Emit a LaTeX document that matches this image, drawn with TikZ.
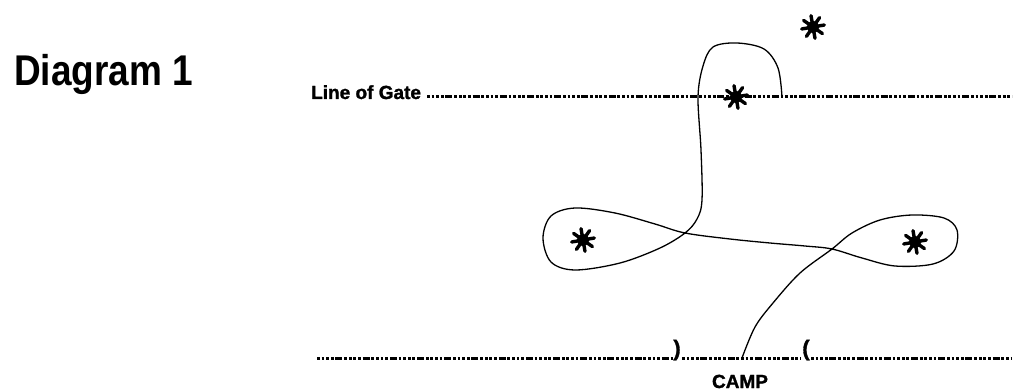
\documentclass[tikz,border=0pt]{standalone}
\usepackage{fontspec}
\setmainfont{Liberation Sans}
\newfontfamily\heavyfont{Liberation Sans Bold}[FakeBold=1.5]
\usetikzlibrary{calc}
\tikzset{
  route/.style={line width=1.3pt, black, line join=round},
  gateline/.style={line width=3pt, black, dash pattern={on 2.8pt off 1.8pt on 2.8pt off 1.8pt on 2.8pt off 1.8pt on 2.8pt off 1.8pt on 7pt off 1.8pt}},
  marker/.style={circle, minimum size=30pt, inner sep=0pt, draw=none,
    path picture={
      \fill (path picture bounding box.center) circle (6pt);
      \foreach \a in {10,55,...,325} \draw[line width=3.4pt, line cap=round] (path picture bounding box.center) -- ++(\a:11.5pt);
    }},
  lbl/.style={font=\fontsize{19}{19}\selectfont\heavyfont, inner sep=0pt},
  paren/.style={font=\fontsize{22}{22}\selectfont\heavyfont, inner sep=0pt}
}
\begin{document}
\begin{tikzpicture}[x=1pt, y=-1pt]
\useasboundingbox (0,0) rectangle (1017,390);
% title
\node[inner sep=0pt, anchor=base west, font=\fontsize{43}{43}\selectfont\bfseries] (title) at (14,86) {\scalebox{0.86}[1]{Diagram 1}};
% line of gate
\node[lbl, anchor=base west] (gatelbl) at (311,99) {Line of Gate};
\coordinate (g1) at (427,97);
\coordinate (g2) at (1012,97);
\draw[gateline] (g1) -- (g2);
% bottom line with camp
\coordinate (b1) at (317,358);
\coordinate (b2) at (673,358);
\coordinate (b3) at (682,358);
\coordinate (b4) at (801,358);
\coordinate (b5) at (811,358);
\coordinate (b6) at (1012,358);
\draw[gateline] (b1) -- (b2);
\draw[gateline] (b3) -- (b4);
\draw[gateline] (b5) -- (b6);
\node[paren] (rp) at (677,350) {)};
\node[paren] (lp) at (806,350) {(};
\node[lbl, anchor=base] (camp) at (740,388) {CAMP};
% stars
\node[marker] (s1) at (813,27) {};
\node[marker] (s2) at (736,97) {};
\node[marker] (s3) at (583,240) {};
\node[marker] (s4) at (915,242) {};
% route
\draw[route] plot[smooth, tension=0.55] coordinates {
 (782,97) (778,68) (764,49) (737,43) (713,47) (703,66) (698,97) (701,150) (702,200) (697,219) (685,233)
 (660,248) (620,263) (575,270) (551,262) (543,238) (551,216) (575,208) (615,213) (655,224) (685,233)
 (730,239) (770,243) (805,246) (832,249) (862,258) (895,266) (933,264) (954,251) (957,230) (944,218)
 (912,215) (880,220) (852,233) (832,249) (800,273) (773,303) (755,327) (742,358)};
\end{tikzpicture}
\end{document}
